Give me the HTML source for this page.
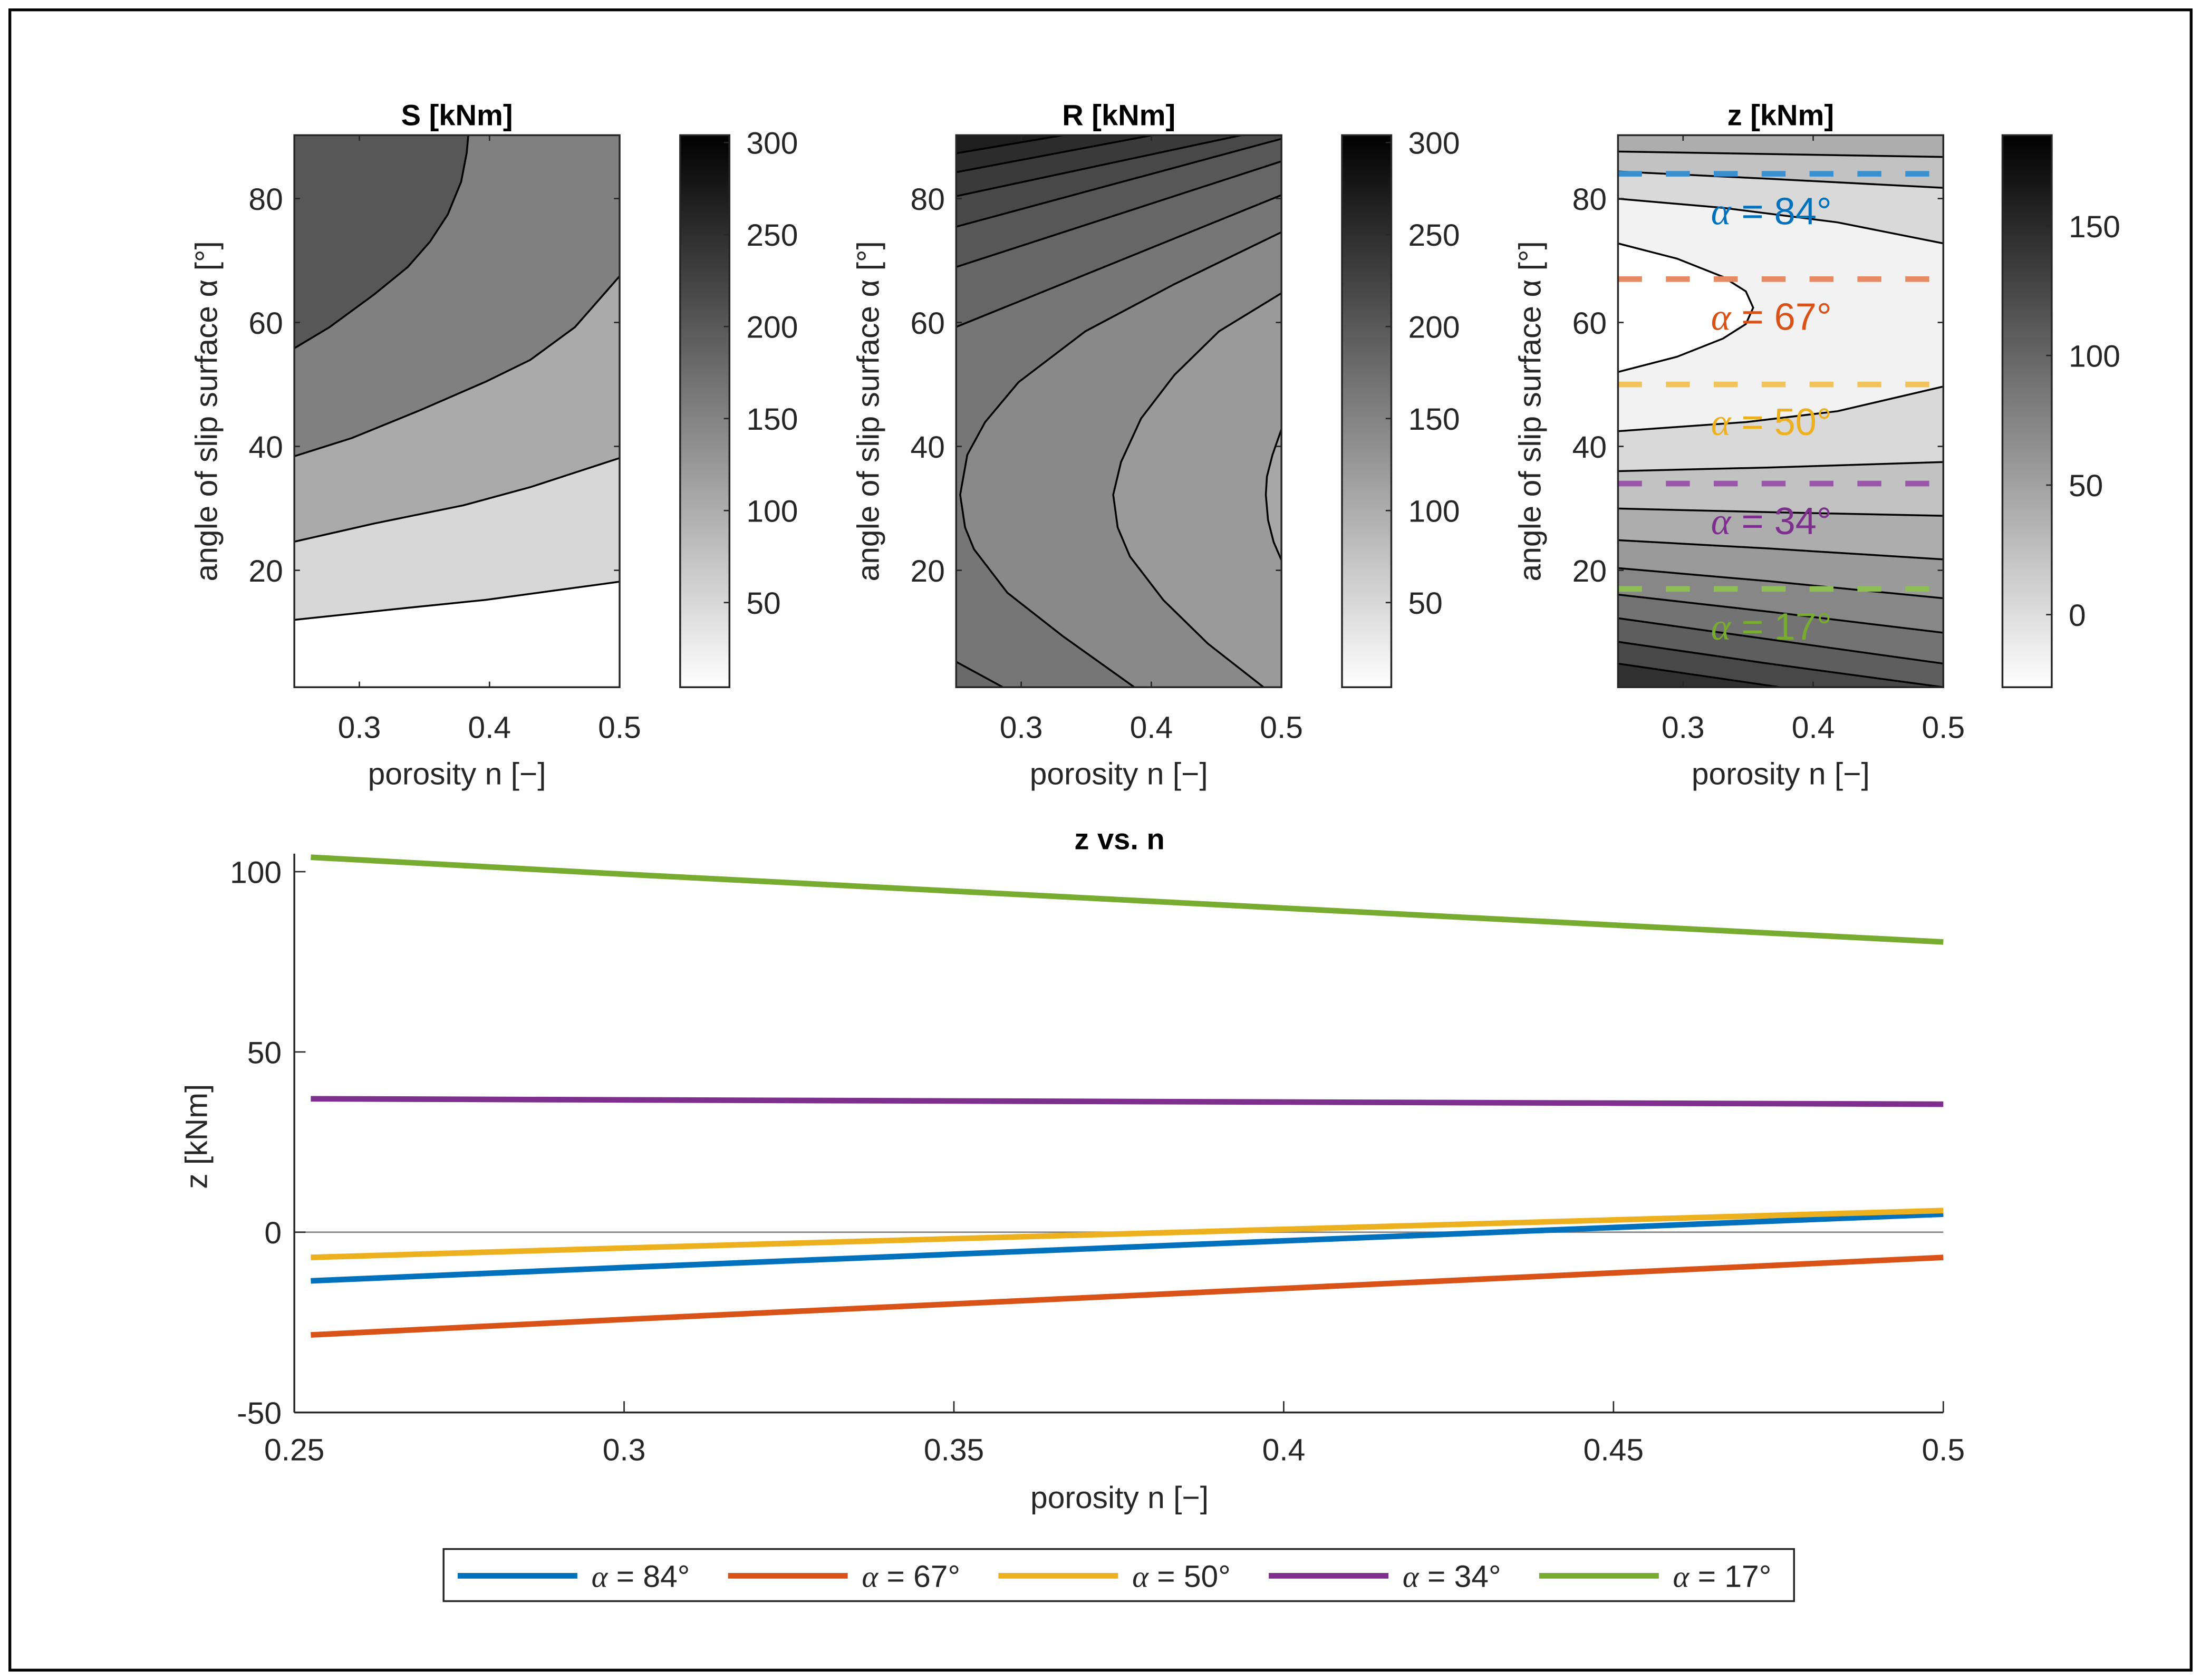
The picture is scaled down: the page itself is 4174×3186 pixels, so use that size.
<!DOCTYPE html>
<html><head><meta charset="utf-8"><style>
html,body{margin:0;padding:0;background:#fff}
svg{display:block}
text{font-family:"Liberation Sans",Arial,sans-serif;fill:#262626}
.t{font-size:22px}
.b{font-weight:bold;font-size:21px;fill:#000}
.ax{fill:none;stroke:#262626;stroke-width:1.3}
.cl{fill:none;stroke:#000;stroke-width:3.5;vector-effect:non-scaling-stroke}
</style></head><body>
<svg id="fig" width="4174" height="3186" viewBox="0 0 1563 1193" preserveAspectRatio="none" xmlns="http://www.w3.org/2000/svg">
<defs>
<linearGradient id="gray" x1="0" y1="1" x2="0" y2="0"><stop offset="0" stop-color="#fff"/><stop offset="1" stop-color="#000"/></linearGradient>
<clipPath id="cS"><rect x="209" y="96" width="231" height="392"/></clipPath>
<clipPath id="cR"><rect x="679" y="96" width="231" height="392"/></clipPath>
<clipPath id="cZ"><rect x="1149" y="96" width="231" height="392"/></clipPath>
</defs>
<rect x="0" y="0" width="1563" height="1193" fill="#fff"/>
<rect x="7" y="7" width="1549" height="1179" fill="none" stroke="#000" stroke-width="2"/>

<!-- S contour -->
<g clip-path="url(#cS)">
<g transform="matrix(0.1584,0,0,0.2582,202.35,90.32)">
<rect x="0" y="0" width="1600" height="1600" fill="#808080"/>
<path d="M42,608 L200,550 L400,460 L550,385 L650,315 L730,240 L790,150 L815,70 L822,22 L42,22 Z" fill="#575757"/>
<path d="M42,905 L300,855 L600,780 L900,700 L1100,640 L1300,550 L1500,410 L1500,1540 L42,1540 Z" fill="#aaaaaa"/>
<path d="M42,1140 L400,1090 L800,1040 L1100,990 L1300,950 L1500,910 L1500,1540 L42,1540 Z" fill="#d7d7d7"/>
<path d="M42,1355 L500,1325 L900,1300 L1200,1275 L1500,1250 L1500,1540 L42,1540 Z" fill="#fff"/>
<path class="cl" d="M42,608 L200,550 L400,460 L550,385 L650,315 L730,240 L790,150 L815,70 L822,22"/>
<path class="cl" d="M42,905 L300,855 L600,780 L900,700 L1100,640 L1300,550 L1500,410"/>
<path class="cl" d="M42,1140 L400,1090 L800,1040 L1100,990 L1300,950 L1500,910"/>
<path class="cl" d="M42,1355 L500,1325 L900,1300 L1200,1275 L1500,1250"/>
</g></g>

<!-- R contour -->
<g clip-path="url(#cR)">
<g transform="matrix(0.1582,0,0,0.2579,675.84,90.84)">
<rect x="0" y="0" width="1600" height="1600" fill="#1e1e1e"/>
<path d="M20,70 L500,20 L1600,20 L1600,1600 L20,1600 Z" fill="#2c2c2c"/>
<path d="M20,122 L900,20 L1600,20 L1600,1600 L20,1600 Z" fill="#3a3a3a"/>
<path d="M20,188 L1300,20 L1600,20 L1600,1600 L20,1600 Z" fill="#484848"/>
<path d="M20,272 L1480,30 L1600,30 L1600,1600 L20,1600 Z" fill="#575757"/>
<path d="M20,383 L1480,92 L1600,92 L1600,1600 L20,1600 Z" fill="#666"/>
<path d="M20,548 L1480,185 L1600,185 L1600,1600 L20,1600 Z" fill="#767676"/>
<path d="M1480,287 L1000,430 L600,560 L300,700 L150,810 L70,900 L38,1010 L60,1100 L100,1160 L250,1280 L500,1400 L820,1540 L1600,1540 L1600,287 Z" fill="#898989"/>
<path d="M1480,455 L1200,560 L1000,680 L850,800 L760,920 L725,1010 L745,1100 L800,1180 L950,1300 L1150,1420 L1400,1540 L1600,1540 L1600,455 Z" fill="#9a9a9a"/>
<path d="M1480,830 L1440,900 L1415,960 L1410,1010 L1420,1080 L1445,1140 L1480,1190 Z" fill="#a7a7a7"/>
<path d="M20,1470 L230,1540 L20,1540 Z" fill="#6a6a6a"/>
<path class="cl" d="M20,70 L500,20"/>
<path class="cl" d="M20,122 L900,20"/>
<path class="cl" d="M20,188 L1300,20"/>
<path class="cl" d="M20,272 L1480,30"/>
<path class="cl" d="M20,383 L1480,92"/>
<path class="cl" d="M20,548 L1480,185"/>
<path class="cl" d="M1480,287 L1000,430 L600,560 L300,700 L150,810 L70,900 L38,1010 L60,1100 L100,1160 L250,1280 L500,1400 L820,1540"/>
<path class="cl" d="M1480,455 L1200,560 L1000,680 L850,800 L760,920 L725,1010 L745,1100 L800,1180 L950,1300 L1150,1420 L1400,1540"/>
<path class="cl" d="M1480,830 L1440,900 L1415,960 L1410,1010 L1420,1080 L1445,1140 L1480,1190"/>
<path class="cl" d="M20,1470 L230,1540"/>
</g></g>

<!-- z contour -->
<g clip-path="url(#cZ)">
<g transform="matrix(0.1627,0,0,0.2579,1142.17,90.84)">
<rect x="0" y="0" width="1600" height="1600" fill="#adadad"/>
<path d="M42,65 L1462,80 L1600,80 L1600,1600 L42,1600 Z" fill="#c2c2c2"/>
<path d="M42,120 L700,140 L1462,165 L1600,165 L1600,1600 L42,1600 Z" fill="#d9d9d9"/>
<path d="M42,195 L500,220 L1000,260 L1462,318 L1600,318 L1600,1600 L42,1600 Z" fill="#f2f2f2"/>
<path d="M42,318 L300,360 L500,410 L600,450 L632,495 L600,540 L500,580 L300,630 L42,672 Z" fill="#fff"/>
<path d="M42,835 L600,810 L1000,780 L1462,712 L1600,712 L1600,1600 L42,1600 Z" fill="#d9d9d9"/>
<path d="M42,945 L700,935 L1462,920 L1600,920 L1600,1600 L42,1600 Z" fill="#c2c2c2"/>
<path d="M42,1048 L700,1058 L1462,1068 L1600,1068 L1600,1600 L42,1600 Z" fill="#adadad"/>
<path d="M42,1135 L700,1158 L1462,1188 L1600,1188 L1600,1600 L42,1600 Z" fill="#9a9a9a"/>
<path d="M42,1212 L700,1248 L1462,1295 L1600,1295 L1600,1600 L42,1600 Z" fill="#878787"/>
<path d="M42,1285 L700,1332 L1462,1390 L1600,1390 L1600,1600 L42,1600 Z" fill="#737373"/>
<path d="M42,1350 L700,1408 L1462,1475 L1600,1475 L1600,1600 L42,1600 Z" fill="#5e5e5e"/>
<path d="M42,1415 L700,1475 L1462,1540 L1600,1600 L42,1600 Z" fill="#484848"/>
<path d="M42,1475 L750,1540 L42,1600 Z" fill="#303030"/>
<path class="cl" d="M42,65 L1462,80"/>
<path class="cl" d="M42,120 L700,140 L1462,165"/>
<path class="cl" d="M42,195 L500,220 L1000,260 L1462,318"/>
<path class="cl" d="M42,318 L300,360 L500,410 L600,450 L632,495 L600,540 L500,580 L300,630 L42,672"/>
<path class="cl" d="M42,835 L600,810 L1000,780 L1462,712"/>
<path class="cl" d="M42,945 L700,935 L1462,920"/>
<path class="cl" d="M42,1048 L700,1058 L1462,1068"/>
<path class="cl" d="M42,1135 L700,1158 L1462,1188"/>
<path class="cl" d="M42,1212 L700,1248 L1462,1295"/>
<path class="cl" d="M42,1285 L700,1332 L1462,1390"/>
<path class="cl" d="M42,1350 L700,1408 L1462,1475"/>
<path class="cl" d="M42,1415 L700,1475 L1462,1540"/>
<path class="cl" d="M42,1475 L750,1540"/>
</g>
<g id="zmarks"></g>
</g>

<g id="static"></g>
<g id="linechart"></g>
</svg>
<script>
// line chart data
const nVals = [0.2525, 0.3, 0.35, 0.4, 0.45, 0.5];
const z84 = [-13.5, -9.8, -6.1, -2.4, 1.3, 5];
const z67 = [-28.5, -24.2, -19.9, -15.6, -11.3, -7];
const z50 = [-7, -4.4, -1.8, 0.8, 3.4, 6];
const z34 = [37, 36.7, 36.4, 36.1, 35.8, 35.5];
const z17 = [104, 99.3, 94.6, 89.9, 85.2, 80.5];
const seriesLabels = ["α = 84°", "α = 67°", "α = 50°", "α = 34°", "α = 17°"];
const seriesAlpha = [84, 67, 50, 34, 17];
const xTicks = ["0.25", "0.3", "0.35", "0.4", "0.45", "0.5"];
const yTicks = ["-50", "0", "50", "100"];
const contourXTicks = ["0.3", "0.4", "0.5"];
const contourYTicks = ["20", "40", "60", "80"];
const cbTicksSR = ["50", "100", "150", "200", "250", "300"];
const cbTicksZ = ["0", "50", "100", "150"];
const colors = ["#0072BD", "#D95319", "#EDB120", "#7E2F8E", "#77AC30"];
const dashColors = ["#3a8fd0", "#e58a62", "#f0c45a", "#9a56a8", "#8fbf52"];

const NS = "http://www.w3.org/2000/svg";
function mk(tag, attrs, parent, txt) {
  const e = document.createElementNS(NS, tag);
  for (const k in attrs) e.setAttribute(k, attrs[k]);
  if (txt !== undefined) e.textContent = txt;
  parent.appendChild(e);
  return e;
}
const st = document.getElementById("static");
const lc = document.getElementById("linechart");
const zm = document.getElementById("zmarks");

const panels = [{x: 209, t: "S [kNm]", cb: 483, ticks: cbTicksSR, lo: 4, hi: 304},
                {x: 679, t: "R [kNm]", cb: 953, ticks: cbTicksSR, lo: 4, hi: 304},
                {x: 1149, t: "z [kNm]", cb: 1422, ticks: cbTicksZ, lo: -28, hi: 185}];
const cx = (p, n) => p.x + (n - 0.25) / 0.25 * 231;
const ay = a => 493 - 4.4 * a;
panels.forEach((p, i) => {
  const g = mk("g", {}, st);
  
  
  mk("rect", {x: p.x, y: 96, width: 231, height: 392, class: "ax"}, g);
  const tt = mk("text", {x: p.x + 115.5, y: 89, "text-anchor": "middle", class: "b"}, g, p.t);
  
  
  contourXTicks.forEach(s => {
    const x = cx(p, parseFloat(s));
    mk("line", {x1: x, x2: x, y1: 488, y2: 484, stroke: "#262626"}, g);
    mk("line", {x1: x, x2: x, y1: 96, y2: 100, stroke: "#262626"}, g);
    const t = mk("text", {x: x, y: 524, "text-anchor": "middle", class: "t"}, g, s);
    
    
  });
  contourYTicks.forEach(s => {
    const y = ay(parseFloat(s));
    mk("line", {x1: p.x, x2: p.x + 4, y1: y, y2: y, stroke: "#262626"}, g);
    mk("line", {x1: p.x + 231, x2: p.x + 227, y1: y, y2: y, stroke: "#262626"}, g);
    const t = mk("text", {x: p.x - 8, y: y + 8, "text-anchor": "end", class: "t"}, g, s);
    
    
  });
  const xl = mk("text", {x: p.x + 115.5, y: 557, "text-anchor": "middle", class: "t", "font-size": "21"}, g, "porosity n [−]");
  
  
  const yl = mk("text", {x: 0, y: 0, "text-anchor": "middle", class: "t", "font-size": "21", transform: `translate(${p.x - 55},292) rotate(-90)`}, g, "angle of slip surface α [°]");
  
  
  const cb = mk("rect", {x: p.cb, y: 96, width: 35, height: 392, fill: "url(#gray)", stroke: "#262626", "stroke-width": 1.3}, g);
  
  
  p.ticks.forEach(s => {
    const y = 488 - (parseFloat(s) - p.lo) / (p.hi - p.lo) * 392;
    mk("line", {x1: p.cb + 35, x2: p.cb + 31, y1: y, y2: y, stroke: "#262626"}, g);
    const t = mk("text", {x: p.cb + 47, y: y + 8, class: "t"}, g, s);
    
    
  });
});

seriesAlpha.forEach((a, i) => {
  const y = ay(a);
  const l = mk("line", {x1: 1149, x2: 1380, y1: y, y2: y, stroke: dashColors[i], "stroke-width": 4, "stroke-dasharray": "17 17"}, zm);
  
  
  const t = mk("text", {x: 1215, y: y + 36, "font-size": "27", style: "fill:" + colors[i]}, zm);
  
  
  mk("tspan", {"font-family": "Liberation Serif, serif", "font-style": "italic", style: "fill:" + colors[i]}, t, "α");
  mk("tspan", {style: "fill:" + colors[i]}, t, " = " + a + "°");
});

const X = n => 209 + (n - 0.25) / 0.25 * 1171;
const Y = v => 875 - v * 2.56;
const ttl = mk("text", {x: 795, y: 603, "text-anchor": "middle", class: "b"}, lc, "z vs. n");


const zero = mk("line", {x1: 209, x2: 1380, y1: Y(0), y2: Y(0), stroke: "#808080", "stroke-width": 1}, lc);


mk("line", {x1: 209, x2: 209, y1: Y(105), y2: Y(-50), class: "ax"}, lc);
mk("line", {x1: 209, x2: 1380, y1: Y(-50), y2: Y(-50), class: "ax"}, lc);
xTicks.forEach(s => {
  const x = X(parseFloat(s));
  mk("line", {x1: x, x2: x, y1: Y(-50), y2: Y(-50) - 8, stroke: "#262626"}, lc);
  const t = mk("text", {x: x, y: 1037, "text-anchor": "middle", class: "t"}, lc, s);
  
  
});
yTicks.forEach(s => {
  const y = Y(parseFloat(s));
  mk("line", {x1: 209, x2: 217, y1: y, y2: y, stroke: "#262626"}, lc);
  const t = mk("text", {x: 200, y: y + 8, "text-anchor": "end", class: "t"}, lc, s);
  
  
});
const xl2 = mk("text", {x: 795, y: 1071, "text-anchor": "middle", class: "t", "font-size": "21"}, lc, "porosity n [−]");


const yl2 = mk("text", {x: 0, y: 0, "text-anchor": "middle", class: "t", "font-size": "21", transform: "translate(147,807) rotate(-90)"}, lc, "z [kNm]");



const allSeries = [z84, z67, z50, z34, z17];
allSeries.forEach((vals, i) => {
  const d = vals.map((v, k) => (k ? "L" : "M") + X(nVals[k]).toFixed(2) + "," + Y(v).toFixed(2)).join(" ");
  const p = mk("path", {d: d, fill: "none", stroke: colors[i], "stroke-width": 4}, lc);
  
  
});

const lg = mk("g", {}, lc);


mk("rect", {x: 315, y: 1100, width: 959, height: 37, fill: "#fff", stroke: "#262626", "stroke-width": 1.3}, lg);
seriesLabels.forEach((s, i) => {
  const x0 = 325 + i * 192;
  const e = mk("g", {}, lg);
  
  
  mk("line", {x1: x0, x2: x0 + 85, y1: 1119, y2: 1119, stroke: colors[i], "stroke-width": 4}, e);
  const t = mk("text", {x: x0 + 95, y: 1127, class: "t"}, e);
  mk("tspan", {"font-family": "Liberation Serif, serif", "font-style": "italic"}, t, "α");
  mk("tspan", {}, t, " = " + seriesAlpha[i] + "°");
});
</script>
</body></html>
